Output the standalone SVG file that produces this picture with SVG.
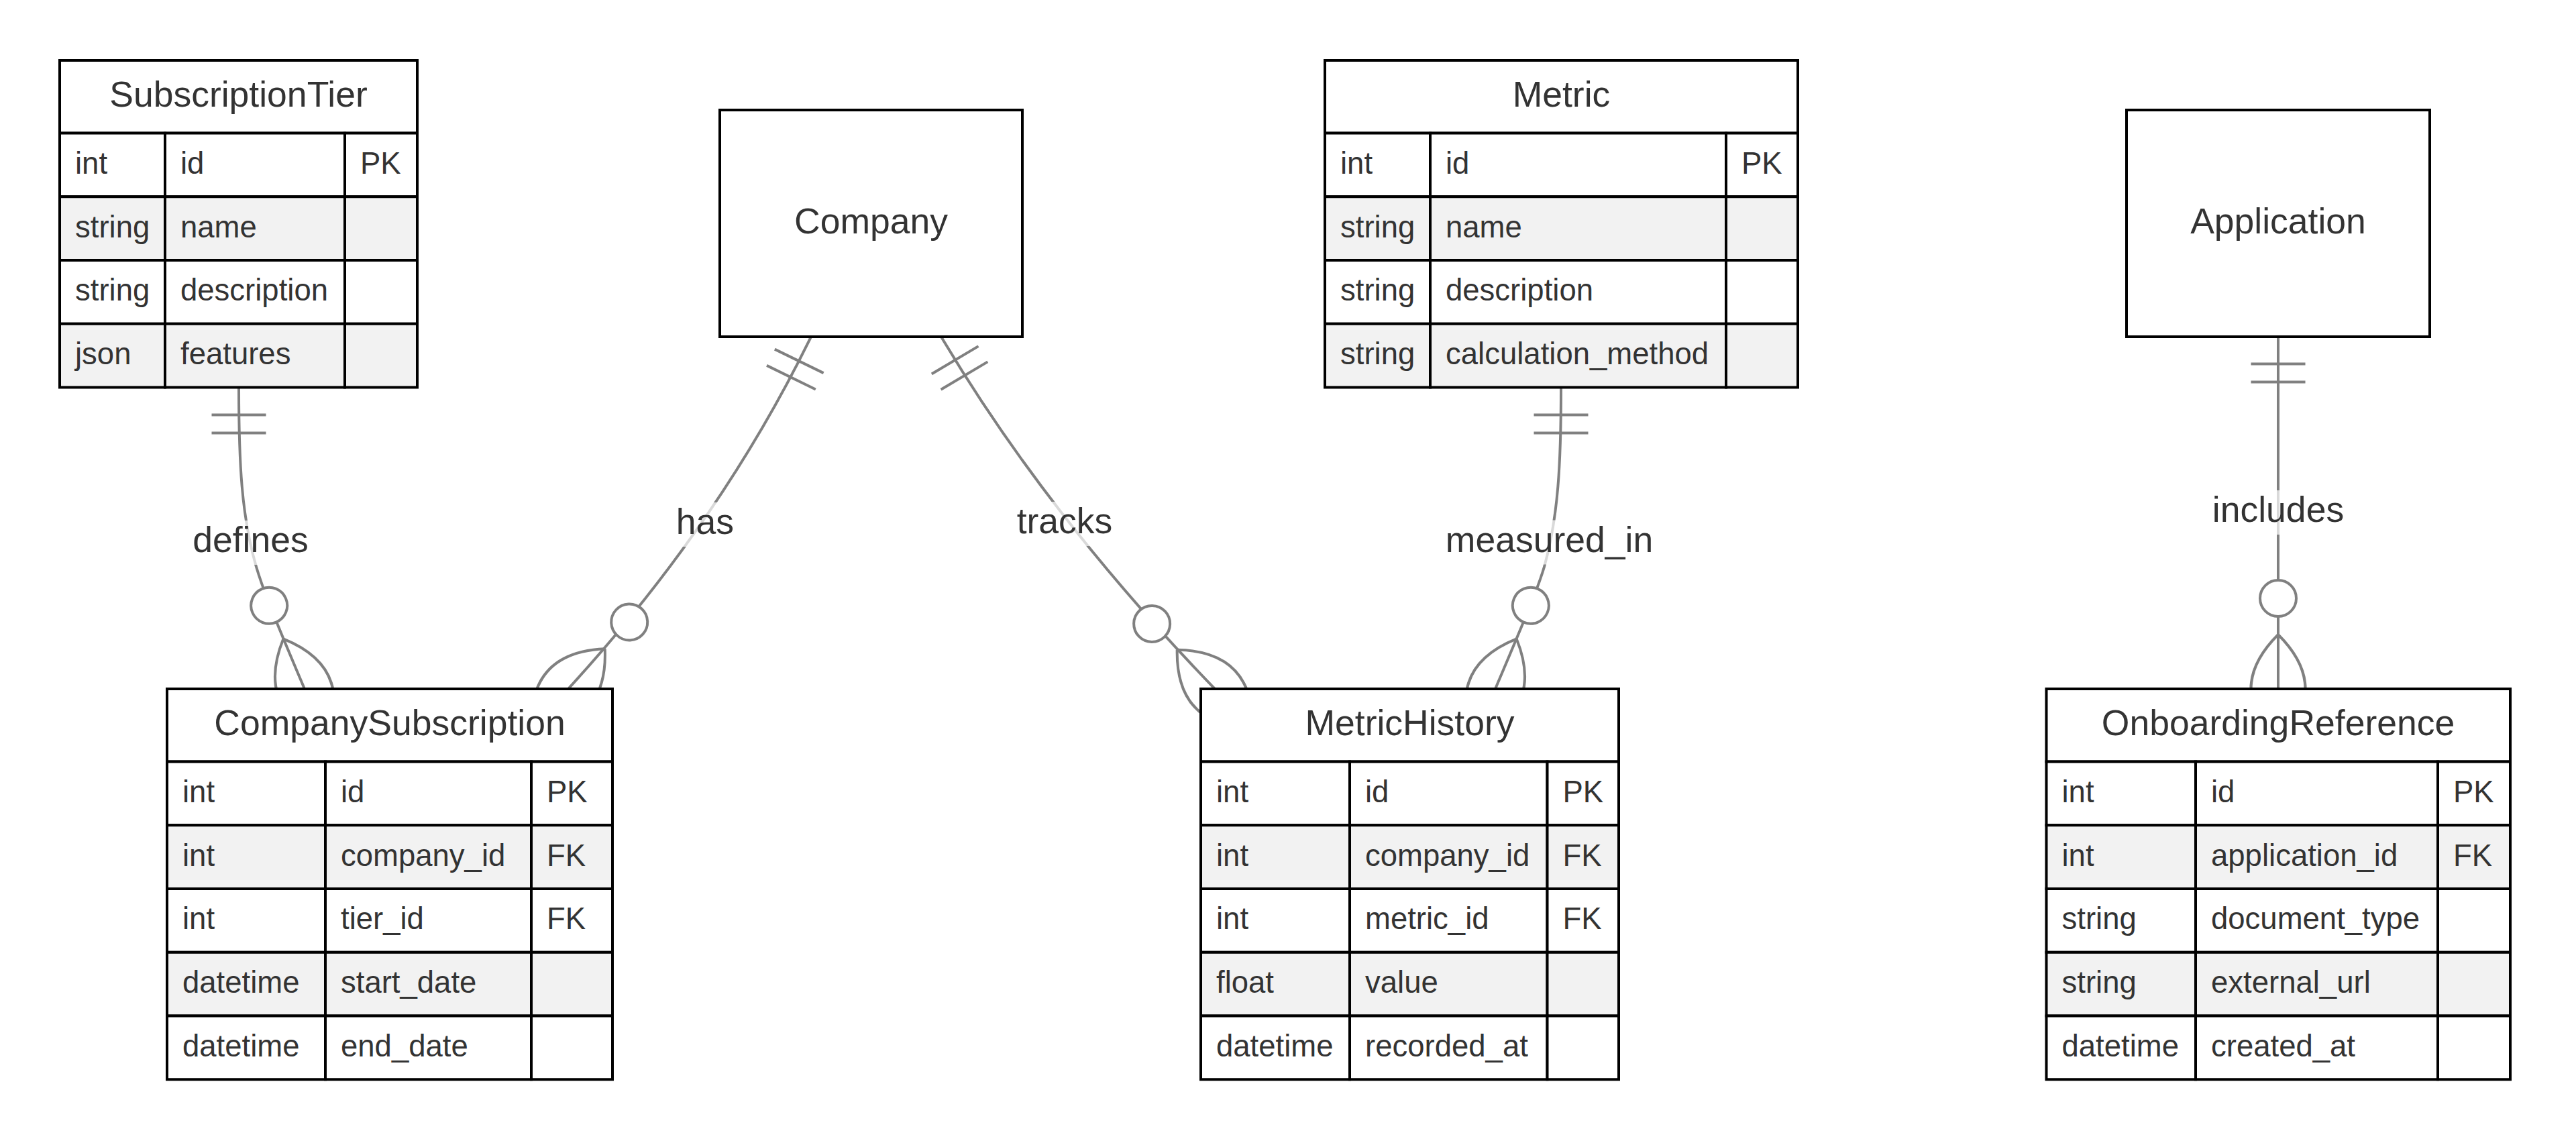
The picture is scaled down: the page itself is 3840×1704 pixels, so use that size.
<svg xmlns="http://www.w3.org/2000/svg" width="3840" height="1704" viewBox="0 0 3840 1704">
<style>
.bg{fill:#fff}
.box{fill:#fff;stroke:#000;stroke-width:4}
.odd{fill:#fff;stroke:#000;stroke-width:4}
.even{fill:#f2f2f2;stroke:#000;stroke-width:4}
.name{font-family:"Liberation Sans",Arial,sans-serif;font-size:53.5px;fill:#333;text-anchor:middle}
.attr{font-family:"Liberation Sans",Arial,sans-serif;font-size:45.5px;fill:#333}
.rel{fill:none;stroke:#808080;stroke-width:4}
.mk{fill:none;stroke:#808080;stroke-width:4}
.mkc{fill:#fff;stroke:#808080;stroke-width:4}
.lblbox{fill:#fff;opacity:0.7}
.lbl{font-family:"Liberation Sans",Arial,sans-serif;font-size:53.5px;fill:#333;text-anchor:middle}
</style>
<defs>
<g id="one"><path class="mk" d="M40.5,-40.5 V40.5 M67.5,-40.5 V40.5"/></g>
<g id="zeromany"><path class="mk" d="M81,0 Q0,-81 -81,0 Q0,81 81,0"/><circle class="mkc" cx="135" cy="0" r="27"/></g>
</defs>
<rect class="bg" x="0" y="0" width="3840" height="1704"/>
<g id="connectors">
<g id="rel-defines">
<path class="rel" d="M356,578 C356,690 360,770 382,845 C390,872 400,900 454,1027"/>
<use href="#one" transform="translate(356,578) rotate(90)"/>
<use href="#zeromany" transform="translate(454,1027) rotate(-113.03)"/>
<rect class="lblbox" x="288" y="776" width="171" height="66"/>
<text class="lbl" x="373.5" y="823">defines</text>
</g>
<g id="rel-has">
<path class="rel" d="M1209,502 Q1073.8,779.4 847,1027"/>
<use href="#one" transform="translate(1209,502) rotate(116)"/>
<use href="#zeromany" transform="translate(847,1027) rotate(-47.5)"/>
<rect class="lblbox" x="1008" y="749" width="86" height="66"/>
<text class="lbl" x="1051" y="796">has</text>
</g>
<g id="rel-tracks">
<path class="rel" d="M1403,502 Q1561.5,769 1811,1027"/>
<use href="#one" transform="translate(1403,502) rotate(59.3)"/>
<use href="#zeromany" transform="translate(1811,1027) rotate(-134.04)"/>
<rect class="lblbox" x="1515.5" y="748" width="143" height="66"/>
<text class="lbl" x="1587" y="795">tracks</text>
</g>
<g id="rel-measured_in">
<path class="rel" d="M2327,578 C2327,690 2323,770 2302,845 C2294,872 2283,900 2229,1027"/>
<use href="#one" transform="translate(2327,578) rotate(90)"/>
<use href="#zeromany" transform="translate(2229,1027) rotate(-66.97)"/>
<rect class="lblbox" x="2155" y="775.5" width="309" height="66"/>
<text class="lbl" x="2309.5" y="822.5">measured_in</text>
</g>
<g id="rel-includes">
<path class="rel" d="M3396,502 L3396,1027"/>
<use href="#one" transform="translate(3396,502) rotate(90)"/>
<use href="#zeromany" transform="translate(3396,1027) rotate(-90)"/>
<rect class="lblbox" x="3298" y="731" width="196" height="66"/>
<text class="lbl" x="3396" y="778">includes</text>
</g>
</g>
<g id="SubscriptionTier">
<rect class="box" x="89" y="90" width="533" height="108.5"/>
<text class="name" x="355.5" y="158.75">SubscriptionTier</text>
<rect class="odd" x="89" y="198.5" width="157" height="94.75"/><rect class="odd" x="246" y="198.5" width="268" height="94.75"/><rect class="odd" x="514" y="198.5" width="108" height="94.75"/>
<rect class="even" x="89" y="293.25" width="157" height="94.75"/><rect class="even" x="246" y="293.25" width="268" height="94.75"/><rect class="even" x="514" y="293.25" width="108" height="94.75"/>
<rect class="odd" x="89" y="388" width="157" height="94.75"/><rect class="odd" x="246" y="388" width="268" height="94.75"/><rect class="odd" x="514" y="388" width="108" height="94.75"/>
<rect class="even" x="89" y="482.75" width="157" height="94.75"/><rect class="even" x="246" y="482.75" width="268" height="94.75"/><rect class="even" x="514" y="482.75" width="108" height="94.75"/>
<text class="attr" x="112" y="258.9">int</text><text class="attr" x="269" y="258.9">id</text><text class="attr" x="537" y="258.9">PK</text>
<text class="attr" x="112" y="353.6">string</text><text class="attr" x="269" y="353.6">name</text>
<text class="attr" x="112" y="448.4">string</text><text class="attr" x="269" y="448.4">description</text>
<text class="attr" x="112" y="543.1">json</text><text class="attr" x="269" y="543.1">features</text>
</g>
<g id="Company">
<rect class="box" x="1073" y="164" width="451" height="338"/>
<text class="name" x="1298.5" y="348">Company</text>
</g>
<g id="Metric">
<rect class="box" x="1975" y="90" width="705" height="108.5"/>
<text class="name" x="2327.5" y="158.75">Metric</text>
<rect class="odd" x="1975" y="198.5" width="157" height="94.75"/><rect class="odd" x="2132" y="198.5" width="441" height="94.75"/><rect class="odd" x="2573" y="198.5" width="107" height="94.75"/>
<rect class="even" x="1975" y="293.25" width="157" height="94.75"/><rect class="even" x="2132" y="293.25" width="441" height="94.75"/><rect class="even" x="2573" y="293.25" width="107" height="94.75"/>
<rect class="odd" x="1975" y="388" width="157" height="94.75"/><rect class="odd" x="2132" y="388" width="441" height="94.75"/><rect class="odd" x="2573" y="388" width="107" height="94.75"/>
<rect class="even" x="1975" y="482.75" width="157" height="94.75"/><rect class="even" x="2132" y="482.75" width="441" height="94.75"/><rect class="even" x="2573" y="482.75" width="107" height="94.75"/>
<text class="attr" x="1998" y="258.9">int</text><text class="attr" x="2155" y="258.9">id</text><text class="attr" x="2596" y="258.9">PK</text>
<text class="attr" x="1998" y="353.6">string</text><text class="attr" x="2155" y="353.6">name</text>
<text class="attr" x="1998" y="448.4">string</text><text class="attr" x="2155" y="448.4">description</text>
<text class="attr" x="1998" y="543.1">string</text><text class="attr" x="2155" y="543.1">calculation_method</text>
</g>
<g id="Application">
<rect class="box" x="3170" y="164" width="452" height="338"/>
<text class="name" x="3396" y="348">Application</text>
</g>
<g id="CompanySubscription">
<rect class="box" x="249" y="1027" width="664" height="108.5"/>
<text class="name" x="581" y="1095.75">CompanySubscription</text>
<rect class="odd" x="249" y="1135.5" width="236" height="94.75"/><rect class="odd" x="485" y="1135.5" width="307" height="94.75"/><rect class="odd" x="792" y="1135.5" width="121" height="94.75"/>
<rect class="even" x="249" y="1230.25" width="236" height="94.75"/><rect class="even" x="485" y="1230.25" width="307" height="94.75"/><rect class="even" x="792" y="1230.25" width="121" height="94.75"/>
<rect class="odd" x="249" y="1325" width="236" height="94.75"/><rect class="odd" x="485" y="1325" width="307" height="94.75"/><rect class="odd" x="792" y="1325" width="121" height="94.75"/>
<rect class="even" x="249" y="1419.75" width="236" height="94.75"/><rect class="even" x="485" y="1419.75" width="307" height="94.75"/><rect class="even" x="792" y="1419.75" width="121" height="94.75"/>
<rect class="odd" x="249" y="1514.5" width="236" height="94.75"/><rect class="odd" x="485" y="1514.5" width="307" height="94.75"/><rect class="odd" x="792" y="1514.5" width="121" height="94.75"/>
<text class="attr" x="272" y="1195.9">int</text><text class="attr" x="508" y="1195.9">id</text><text class="attr" x="815" y="1195.9">PK</text>
<text class="attr" x="272" y="1290.6">int</text><text class="attr" x="508" y="1290.6">company_id</text><text class="attr" x="815" y="1290.6">FK</text>
<text class="attr" x="272" y="1385.4">int</text><text class="attr" x="508" y="1385.4">tier_id</text><text class="attr" x="815" y="1385.4">FK</text>
<text class="attr" x="272" y="1480.1">datetime</text><text class="attr" x="508" y="1480.1">start_date</text>
<text class="attr" x="272" y="1574.9">datetime</text><text class="attr" x="508" y="1574.9">end_date</text>
</g>
<g id="MetricHistory">
<rect class="box" x="1790" y="1027" width="623" height="108.5"/>
<text class="name" x="2101.5" y="1095.75">MetricHistory</text>
<rect class="odd" x="1790" y="1135.5" width="222" height="94.75"/><rect class="odd" x="2012" y="1135.5" width="294.5" height="94.75"/><rect class="odd" x="2306.5" y="1135.5" width="106.5" height="94.75"/>
<rect class="even" x="1790" y="1230.25" width="222" height="94.75"/><rect class="even" x="2012" y="1230.25" width="294.5" height="94.75"/><rect class="even" x="2306.5" y="1230.25" width="106.5" height="94.75"/>
<rect class="odd" x="1790" y="1325" width="222" height="94.75"/><rect class="odd" x="2012" y="1325" width="294.5" height="94.75"/><rect class="odd" x="2306.5" y="1325" width="106.5" height="94.75"/>
<rect class="even" x="1790" y="1419.75" width="222" height="94.75"/><rect class="even" x="2012" y="1419.75" width="294.5" height="94.75"/><rect class="even" x="2306.5" y="1419.75" width="106.5" height="94.75"/>
<rect class="odd" x="1790" y="1514.5" width="222" height="94.75"/><rect class="odd" x="2012" y="1514.5" width="294.5" height="94.75"/><rect class="odd" x="2306.5" y="1514.5" width="106.5" height="94.75"/>
<text class="attr" x="1813" y="1195.9">int</text><text class="attr" x="2035" y="1195.9">id</text><text class="attr" x="2329.5" y="1195.9">PK</text>
<text class="attr" x="1813" y="1290.6">int</text><text class="attr" x="2035" y="1290.6">company_id</text><text class="attr" x="2329.5" y="1290.6">FK</text>
<text class="attr" x="1813" y="1385.4">int</text><text class="attr" x="2035" y="1385.4">metric_id</text><text class="attr" x="2329.5" y="1385.4">FK</text>
<text class="attr" x="1813" y="1480.1">float</text><text class="attr" x="2035" y="1480.1">value</text>
<text class="attr" x="1813" y="1574.9">datetime</text><text class="attr" x="2035" y="1574.9">recorded_at</text>
</g>
<g id="OnboardingReference">
<rect class="box" x="3050.5" y="1027" width="691.5" height="108.5"/>
<text class="name" x="3396" y="1095.75">OnboardingReference</text>
<rect class="odd" x="3050.5" y="1135.5" width="222.5" height="94.75"/><rect class="odd" x="3273" y="1135.5" width="361" height="94.75"/><rect class="odd" x="3634" y="1135.5" width="108" height="94.75"/>
<rect class="even" x="3050.5" y="1230.25" width="222.5" height="94.75"/><rect class="even" x="3273" y="1230.25" width="361" height="94.75"/><rect class="even" x="3634" y="1230.25" width="108" height="94.75"/>
<rect class="odd" x="3050.5" y="1325" width="222.5" height="94.75"/><rect class="odd" x="3273" y="1325" width="361" height="94.75"/><rect class="odd" x="3634" y="1325" width="108" height="94.75"/>
<rect class="even" x="3050.5" y="1419.75" width="222.5" height="94.75"/><rect class="even" x="3273" y="1419.75" width="361" height="94.75"/><rect class="even" x="3634" y="1419.75" width="108" height="94.75"/>
<rect class="odd" x="3050.5" y="1514.5" width="222.5" height="94.75"/><rect class="odd" x="3273" y="1514.5" width="361" height="94.75"/><rect class="odd" x="3634" y="1514.5" width="108" height="94.75"/>
<text class="attr" x="3073.5" y="1195.9">int</text><text class="attr" x="3296" y="1195.9">id</text><text class="attr" x="3657" y="1195.9">PK</text>
<text class="attr" x="3073.5" y="1290.6">int</text><text class="attr" x="3296" y="1290.6">application_id</text><text class="attr" x="3657" y="1290.6">FK</text>
<text class="attr" x="3073.5" y="1385.4">string</text><text class="attr" x="3296" y="1385.4">document_type</text>
<text class="attr" x="3073.5" y="1480.1">string</text><text class="attr" x="3296" y="1480.1">external_url</text>
<text class="attr" x="3073.5" y="1574.9">datetime</text><text class="attr" x="3296" y="1574.9">created_at</text>
</g>
</svg>
